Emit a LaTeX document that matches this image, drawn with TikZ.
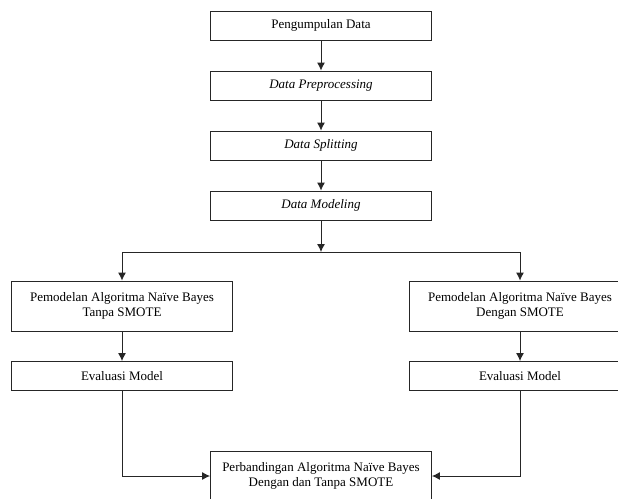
\documentclass[tikz,border=0pt]{standalone}
\usepackage{fontspec}
\setmainfont{Liberation Serif}
\usetikzlibrary{positioning, arrows.meta}

\begin{document}
\begin{tikzpicture}[
  x=1pt, y=-1pt,
  box/.style={draw, line width=0.9pt, minimum width=221pt, align=center,
    inner sep=0pt, font=\fontsize{13}{15.6}\selectfont},
  small/.style={box, minimum height=29pt},
  tall/.style={box, minimum height=50pt},
  -{Latex[length=8pt,width=8pt]}, line width=0.9pt, draw=black!85,
]
  \useasboundingbox (0,0) rectangle (618,498);
  \clip (0,0) rectangle (618,498);

  \foreach \i/\t in {0/Pengumpulan Data, 1/\textit{Data Preprocessing},
                     2/\textit{Data Splitting}, 3/\textit{Data Modeling}} {
    \node[small] (s\i) at (321, 25.5+60*\i) {\t};
  }
  \foreach \i [count=\j] in {0,1,2} {
    \draw (s\i) -- (s\j);
  }

  \coordinate (split) at (321,252);
  \node[tall] (nbTanpa) at (122,306) {Pemodelan Algoritma Naïve Bayes\\Tanpa SMOTE};
  \node[tall] (nbDengan) at (520,306) {Pemodelan Algoritma Naïve Bayes\\Dengan SMOTE};
  \node[small] (evTanpa) at (122,376) {Evaluasi Model};
  \node[small] (evDengan) at (520,376) {Evaluasi Model};
  \node[tall] (banding) at (321,476) {Perbandingan Algoritma Naïve Bayes\\Dengan dan Tanpa SMOTE};

  \draw (s3) -- (split);
  \draw (split) -| (nbTanpa);
  \draw (split) -| (nbDengan);

  \draw (nbTanpa) -- (evTanpa);
  \draw (nbDengan) -- (evDengan);

  \draw (evTanpa) |- (banding);
  \draw (evDengan) |- (banding);
\end{tikzpicture}
\end{document}
